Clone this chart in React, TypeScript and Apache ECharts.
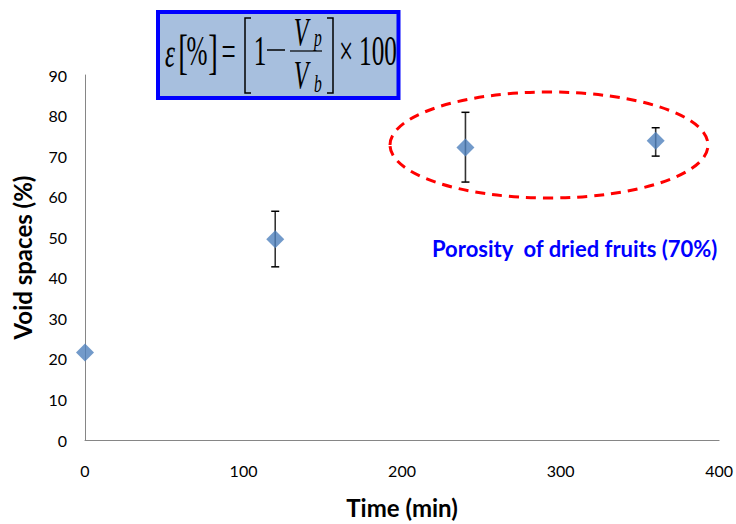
import React, { useEffect, useRef } from "react";
import * as echarts from "echarts";

const times = [0, 120, 240, 360];
const voidSpaces = [21.6, 49.5, 72.1, 73.8];
const errLow = [21.6, 42.7, 63.6, 70.0];
const errHigh = [21.6, 56.4, 80.8, 77.0];
const xTicks = [0, 100, 200, 300, 400];
const yTicks = [0, 10, 20, 30, 40, 50, 60, 70, 80, 90];
const xTitle = "Time (min)";
const yTitle = "Void spaces (%)";
const note = "Porosity  of dried fruits (70%)";

export default function App() {
  const ref = useRef<HTMLDivElement>(null);
  useEffect(() => {
    if (!ref.current) return;
    const chart = echarts.init(ref.current, null, { renderer: "svg" });
    const serif = "'Liberation Serif', 'DejaVu Serif', serif";
    const ff = "Lato, 'Open Sans', sans-serif";
    const sx = 0.6;
    const errData = times.map((t, i) => [t, errLow[i], errHigh[i]]);
    const ft = (t: string, x: number, y: number, size: number, italic = false) => ({
      type: "text",
      x,
      y,
      scaleX: sx,
      style: {
        text: t,
        x: 0,
        y: 0,
        fontFamily: serif,
        fontStyle: italic ? "italic" : "normal",
        fontSize: size,
        fill: "#000",
        align: "center",
        verticalAlign: "middle",
      },
    });
    chart.setOption({
      animation: false,
      backgroundColor: "#ffffff",
      grid: { left: 85, right: 16, top: 75, bottom: 82, containLabel: false },
      xAxis: {
        type: "value",
        min: xTicks[0],
        max: xTicks[xTicks.length - 1],
        interval: 100,
        name: xTitle,
        nameLocation: "middle",
        nameGap: 55,
        nameTextStyle: { fontFamily: ff, fontWeight: "bold", fontSize: 24, color: "#000" },
        axisLine: { show: true, lineStyle: { color: "#868686", width: 1 } },
        axisTick: { show: false },
        splitLine: { show: false },
        axisLabel: { margin: 22, fontFamily: ff, fontSize: 16, color: "#000" },
      },
      yAxis: {
        type: "value",
        min: yTicks[0],
        max: yTicks[yTicks.length - 1],
        interval: 10,
        name: yTitle,
        nameLocation: "middle",
        nameGap: 51,
        nameRotate: 90,
        nameTextStyle: { fontFamily: ff, fontWeight: "bold", fontSize: 24, color: "#000" },
        axisLine: { show: true, lineStyle: { color: "#868686", width: 1 } },
        axisTick: { show: false },
        splitLine: { show: false },
        axisLabel: { margin: 18, fontFamily: ff, fontSize: 16, color: "#000" },
      },
      series: [
        {
          type: "custom",
          data: errData,
          z: 1,
          renderItem: (params: any, api: any) => {
            const x = api.value(0);
            const lo = api.coord([x, api.value(1)]);
            const hi = api.coord([x, api.value(2)]);
            if (Math.abs(lo[1] - hi[1]) < 1) return { type: "group", children: [] };
            const w = 4;
            const st = { stroke: "#000", lineWidth: 1.5 };
            return {
              type: "group",
              children: [
                { type: "line", shape: { x1: lo[0], y1: lo[1], x2: hi[0], y2: hi[1] }, style: { stroke: "#333", lineWidth: 1.6 } },
                { type: "line", shape: { x1: lo[0] - w, y1: lo[1], x2: lo[0] + w, y2: lo[1] }, style: st },
                { type: "line", shape: { x1: hi[0] - w, y1: hi[1], x2: hi[0] + w, y2: hi[1] }, style: st },
              ],
            };
          },
        },
        {
          type: "scatter",
          z: 3,
          symbol: "diamond",
          symbolSize: 18,
          itemStyle: { color: "#4F81BD" },
          data: times.map((t, i) => [t, voidSpaces[i]]),
        },
      ],
      graphic: [
        {
          type: "ellipse",
          shape: { cx: 549, cy: 145, rx: 159, ry: 53 },
          style: { fill: "none", stroke: "#FF0000", lineWidth: 3, lineDash: [10, 7] },
          z: 5,
        },
        {
          type: "text",
          x: 432,
          y: 248,
          style: { text: note, x: 0, y: 0, fontFamily: ff, fontWeight: "bold", fontSize: 22, fill: "#0000FF", verticalAlign: "middle" },
        },
        {
          type: "group",
          z: 10,
          children: [
            {
              type: "rect",
              shape: { x: 158, y: 12, width: 240.5, height: 86 },
              style: { fill: "#A7BFDE", stroke: "#0000FF", lineWidth: 4 },
            },
            ft("ε", 170, 52, 42, true),
            ft("[", 183, 52, 48),
            ft("%", 197, 50, 42),
            ft("]", 213, 52, 48),
            ft("=", 228.5, 50, 42),
            { type: "polyline", shape: { points: [[251, 18], [245, 18], [245, 93], [251, 93]] }, style: { stroke: "#000", lineWidth: 1.5, fill: "none" } },
            ft("1", 260, 50, 42),
            { type: "line", shape: { x1: 267, y1: 50, x2: 285, y2: 50 }, style: { stroke: "#000", lineWidth: 1.5 } },
            ft("V", 301, 32, 40, true),
            ft("p", 318, 38, 26, true),
            { type: "line", shape: { x1: 290, y1: 51, x2: 322, y2: 51 }, style: { stroke: "#000", lineWidth: 1.2 } },
            ft("V", 301, 75, 40, true),
            ft("b", 318, 84, 26, true),
            { type: "polyline", shape: { points: [[327, 18], [333, 18], [333, 93], [327, 93]] }, style: { stroke: "#000", lineWidth: 1.5, fill: "none" } },
            ft("×", 346, 50, 42),
            ft("100", 378, 50, 42),
          ],
        },
      ],
    });
    return () => chart.dispose();
  }, []);
  return <div ref={ref} style={{ position: "fixed", left: 0, top: 0, width: 736, height: 524 }} />;
}
